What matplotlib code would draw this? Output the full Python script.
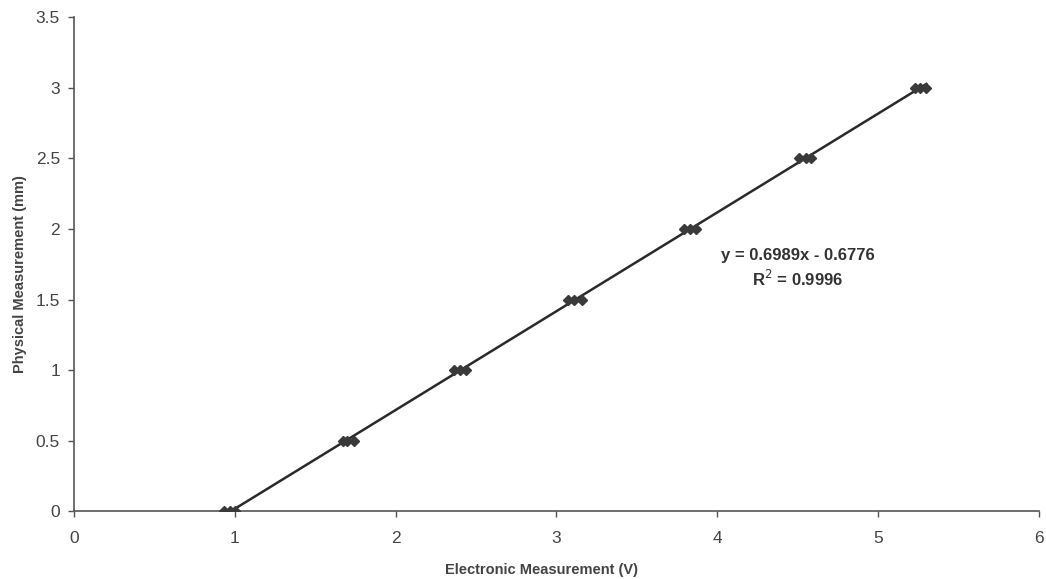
import numpy as np
import matplotlib
matplotlib.use('Agg')
import matplotlib.pyplot as plt

plt.rcParams['font.family'] = ['Liberation Sans', 'DejaVu Sans']

# physical levels (mm) and the electronic readings (V) taken at each
physical = [0, 0, 0, 0.5, 0.5, 0.5, 1, 1, 1, 1.5, 1.5, 1.5,
            2, 2, 2, 2.5, 2.5, 2.5, 3, 3, 3]
electronic = [0.93, 0.97, 1.00, 1.67, 1.70, 1.74, 2.36, 2.40, 2.44,
              3.07, 3.11, 3.16, 3.79, 3.83, 3.87, 4.51, 4.55, 4.58,
              5.23, 5.26, 5.30]
eq_text = "y = 0.6989x - 0.6776"
r2_text = "R$^2$ = 0.9996"

x = np.array(electronic)
y = np.array(physical)
slope, icpt = np.polyfit(x, y, 1)
xs = np.array([x.min(), x.max()])

fig = plt.figure(figsize=(10.46, 5.79), dpi=100)
ax = fig.add_axes([0.0707, 0.1166, 0.9226, 0.854])

ax.plot(xs, slope * xs + icpt, color='#2a2a2a', lw=1.8, zorder=2)
ax.plot(x, y, linestyle='none', marker='D', markersize=5,
        color='#3a3a3a', zorder=3)

ax.text(4.50, 1.815, eq_text, ha='center', va='center', fontsize=12,
        fontweight='bold', color='#333333')
ax.text(4.50, 1.645, r2_text, ha='center', va='center', fontsize=12,
        fontweight='bold', color='#333333')

ax.set_xlim(0, 6)
ax.set_ylim(0, 3.5)
ax.set_xticks(range(0, 7))
ax.set_yticks(np.arange(0, 3.51, 0.5))
ax.set_yticklabels(['0', '0.5', '1', '1.5', '2', '2.5', '3', '3.5'])
ax.tick_params(direction='out', length=4, width=1, colors='#555555',
               labelcolor='#444444', labelsize=12.5)
ax.tick_params(axis='x', pad=10)
ax.tick_params(axis='y', pad=6)
for s in ['top', 'right']:
    ax.spines[s].set_visible(False)
for s in ['left', 'bottom']:
    ax.spines[s].set_color('#555555')
    ax.spines[s].set_linewidth(1.2)

ax.set_xlabel("Electronic Measurement (V)", fontsize=10.5,
              fontweight='bold', color='#444444')
ax.xaxis.set_label_coords(0.484, -0.104)
ax.set_ylabel("Physical Measurement (mm)", fontsize=10.5,
              fontweight='bold', color='#444444')
ax.yaxis.set_label_coords(-0.049, 0.48)

fig.savefig('out.png', dpi=100)
